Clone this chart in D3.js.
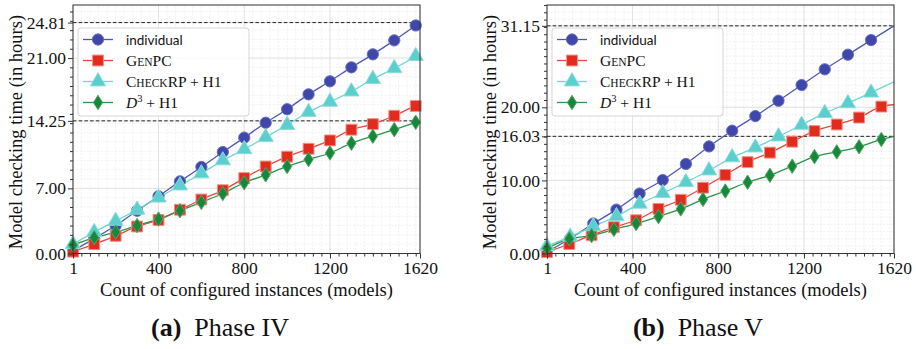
<!DOCTYPE html>
<html>
<head>
<meta charset="utf-8">
<script src="https://cdn.jsdelivr.net/npm/d3@7"></script>
<style>
body { margin: 0; background: #fff; }
svg { display: block; }
text { font-family: "Liberation Serif", "Times New Roman", Times, "DejaVu Serif", serif; }
text.sans { font-family: Lato, "DejaVu Sans", sans-serif; }
</style>
</head>
<body>
<script>
var width = 916,
    height = 349;

// ---- data ----
var xTicks = [1, 400, 800, 1200, 1620];

// Phase IV (markers every 100, last point is the line end at 1620)
var p4X = [1, 100, 200, 300, 400, 500, 600, 700, 800, 900, 1000, 1100, 1200, 1300, 1400, 1500, 1600, 1620];
var p4Individual = [0.3, 1.6, 3.0, 4.6, 6.15, 7.75, 9.3, 10.9, 12.45, 14.05, 15.5, 17.1, 18.5, 20.0, 21.4, 22.9, 24.5, 24.81];
var p4GenPC = [0.2, 1.0, 1.9, 2.9, 3.6, 4.7, 5.8, 6.8, 8.1, 9.35, 10.4, 11.25, 12.15, 13.3, 13.9, 14.8, 15.85, 16.0];
var p4CheckRP = [1.0, 2.3, 3.5, 4.7, 6.0, 7.3, 8.6, 10.0, 11.2, 12.5, 13.8, 15.2, 16.3, 17.4, 18.75, 19.9, 21.2, 21.5];
var p4D3 = [0.9, 1.7, 2.3, 3.0, 3.7, 4.6, 5.5, 6.45, 7.6, 8.45, 9.35, 10.1, 10.8, 11.85, 12.6, 13.3, 14.1, 14.25];
var p4YTicks = [0, 7, 14.25, 21, 24.81];
var p4Dashed = [24.81, 14.25];

// Phase V (individual / CheckRP marked every 108, GenPC / D3 every 104)
var p5XA = [1, 109, 217, 325, 433, 541, 649, 757, 865, 973, 1081, 1189, 1297, 1405, 1513, 1620];
var p5XB = [1, 105, 209, 313, 417, 521, 625, 729, 833, 937, 1041, 1145, 1249, 1353, 1457, 1561, 1620];
var p5Individual = [0.2, 2.05, 4.1, 6.0, 8.2, 10.05, 12.25, 14.65, 16.8, 18.8, 20.9, 23.05, 25.2, 27.2, 29.2, 31.15];
var p5CheckRP = [1.0, 2.3, 3.7, 5.1, 6.8, 8.25, 9.75, 11.35, 13.15, 14.5, 16.0, 17.6, 19.2, 20.55, 22.0, 23.5];
var p5GenPC = [0.2, 1.3, 2.5, 3.6, 4.55, 6.1, 7.35, 9.0, 10.75, 12.5, 13.8, 15.3, 16.75, 17.65, 18.6, 20.1, 20.35];
var p5D3 = [0.7, 2.0, 2.45, 3.3, 4.1, 5.05, 6.1, 7.4, 8.55, 9.75, 10.7, 11.95, 13.25, 13.9, 14.6, 15.6, 16.03];
var p5YTicks = [0, 10, 16.03, 20, 31.15];
var p5Dashed = [31.15, 16.03];

var styles = {
  individual: { line: '#5058b2', fill: '#3f47aa', edge: '#6a70bd', shape: 'circle' },
  genpc:      { line: '#e8473b', fill: '#e12c1d', edge: '#f08f86', shape: 'square' },
  checkrp:    { line: '#6dd5d3', fill: '#5bcfcd', edge: '#8adcdb', shape: 'triangle' },
  d3:         { line: '#2a9548', fill: '#17883a', edge: '#4ea565', shape: 'diamond' }
};
var legendOrder = ['individual', 'genpc', 'checkrp', 'd3'];

var svg = d3.select("body").append("svg")
    .attr("width", width)
    .attr("height", height);

function markerPath(shape) {
  if (shape === 'circle') return d3.symbol(d3.symbolCircle, 100)();
  if (shape === 'square') return d3.symbol(d3.symbolSquare, 118)();
  if (shape === 'triangle') return d3.symbol(d3.symbolTriangle, 100)();
  return "M0,-7.2L4.6,0L0,7.2L-4.6,0Z";
}

function drawMarker(g, key, x, y) {
  var s = styles[key];
  g.append("path")
    .attr("d", markerPath(s.shape))
    .attr("transform", "translate(" + x + "," + y + ")")
    .attr("fill", s.fill)
    .attr("stroke", s.edge)
    .attr("stroke-width", 1);
}

function legendLabel(text, key) {
  if (key === 'individual') {
    text.attr("class", "sans").style("font-size", "13.5px").text("individual");
    return;
  }
  text.style("font-size", "15.5px");
  if (key === 'genpc') {
    text.append("tspan").text("G");
    text.append("tspan").style("font-size", "11.5px").text("EN");
    text.append("tspan").text("PC");
  } else if (key === 'checkrp') {
    text.append("tspan").text("C");
    text.append("tspan").style("font-size", "11.5px").text("HECK");
    text.append("tspan").text("RP + H1");
  } else {
    text.append("tspan").style("font-style", "italic").text("D");
    text.append("tspan").attr("dy", -6).style("font-size", "10.5px").text("3");
    text.append("tspan").attr("dy", 6).text(" + H1");
  }
}

function drawPanel(cfg) {
  var x = d3.scaleLinear().domain([1, 1620]).range([cfg.left, cfg.right]);
  var y = d3.scaleLinear().domain([0, cfg.yMax]).range([253.5, 5]);
  var g = svg.append("g");

  // minor grid
  var xMinor = d3.range(40, 1620, 40);
  var yMinor = d3.range(1, Math.floor(cfg.yMax) + 1, 1);
  g.append("g").selectAll("line").data(xMinor).enter().append("line")
    .attr("x1", d => x(d)).attr("x2", d => x(d))
    .attr("y1", y(0)).attr("y2", y(cfg.yMax))
    .attr("stroke", "#e9e9e9").attr("stroke-width", 0.6).attr("stroke-dasharray", "2,1.5");
  g.append("g").selectAll("line").data(yMinor).enter().append("line")
    .attr("x1", cfg.left).attr("x2", cfg.right)
    .attr("y1", d => y(d)).attr("y2", d => y(d))
    .attr("stroke", "#e9e9e9").attr("stroke-width", 0.6).attr("stroke-dasharray", "2,1.5");

  // major grid
  g.append("g").selectAll("line").data(xTicks).enter().append("line")
    .attr("x1", d => x(d)).attr("x2", d => x(d))
    .attr("y1", y(0)).attr("y2", y(cfg.yMax))
    .attr("stroke", "#dcdcdc").attr("stroke-width", 0.8);
  g.append("g").selectAll("line").data(cfg.yTicks).enter().append("line")
    .attr("x1", cfg.left).attr("x2", cfg.right)
    .attr("y1", d => y(d)).attr("y2", d => y(d))
    .attr("stroke", "#dcdcdc").attr("stroke-width", 0.8);

  // dashed reference lines
  g.append("g").selectAll("line").data(cfg.dashed).enter().append("line")
    .attr("x1", cfg.left).attr("x2", cfg.right)
    .attr("y1", d => y(d)).attr("y2", d => y(d))
    .attr("stroke", "#222").attr("stroke-width", 1).attr("stroke-dasharray", "3.5,2.2");

  var line = d3.line()
    .x(d => x(d[0]))
    .y(d => y(d[1]))
    .curve(d3.curveMonotoneX);

  cfg.series.forEach(function (s) {
    var pts = s.xs.map((v, i) => [v, s.values[i]]);
    g.append("path")
      .datum(pts)
      .attr("fill", "none")
      .attr("stroke", styles[s.key].line)
      .attr("stroke-width", 1.3)
      .attr("d", line);
  });
  cfg.series.forEach(function (s) {
    var mg = g.append("g");
    // last point is only the end of the line, no marker
    s.xs.slice(0, -1).forEach(function (v, i) {
      drawMarker(mg, s.key, x(v), y(s.values[i]));
    });
  });

  // frame
  g.append("rect")
    .attr("x", cfg.left).attr("y", 5)
    .attr("width", cfg.right - cfg.left).attr("height", 253.5 - 5)
    .attr("fill", "none").attr("stroke", "#333").attr("stroke-width", 1);

  // axes
  var xAxis = d3.axisBottom(x).tickValues(xTicks).tickFormat(d3.format("d")).tickSize(5).tickPadding(3);
  var xAxisMinor = d3.axisBottom(x).tickValues(xMinor).tickFormat("").tickSize(3);
  var yAxis = d3.axisLeft(y).tickValues(cfg.yTicks).tickFormat(d3.format(".2f")).tickSize(5).tickPadding(2);
  var yAxisMinor = d3.axisLeft(y).tickValues(yMinor.filter(d => cfg.yTicks.indexOf(d) < 0)).tickFormat("").tickSize(3);

  [ [xAxisMinor, "x"], [xAxis, "x"], [yAxisMinor, "y"], [yAxis, "y"] ].forEach(function (a) {
    var ag = g.append("g")
      .attr("transform", a[1] === "x" ? "translate(0,253.5)" : "translate(" + cfg.left + ",0)")
      .call(a[0]);
    ag.attr("font-family", null).attr("font-size", null);
    ag.select(".domain").remove();
    ag.selectAll("line").attr("stroke", "#333");
    ag.selectAll("text")
      .attr("fill", "#111")
      .style("font-size", "17.5px");
  });

  // axis titles
  g.append("text")
    .attr("x", (cfg.left + cfg.right) / 2).attr("y", 296)
    .attr("text-anchor", "middle")
    .style("font-size", "18.5px").attr("fill", "#111")
    .text("Count of configured instances (models)");
  g.append("text")
    .attr("transform", "translate(" + (cfg.left - 57) + ",132) rotate(-90)")
    .attr("text-anchor", "middle").attr("dy", "0.35em")
    .style("font-size", "18.5px").attr("fill", "#111")
    .text("Model checking time (in hours)");

  // legend
  var lg = g.append("g").attr("transform", "translate(" + (cfg.left + 5) + ",28)");
  lg.append("rect")
    .attr("width", 171).attr("height", 88).attr("rx", 3)
    .attr("fill", "#fff").attr("fill-opacity", 0.85)
    .attr("stroke", "#d6d6d6").attr("stroke-width", 1);
  legendOrder.forEach(function (key, i) {
    var ry = 11.5 + i * 21;
    lg.append("line")
      .attr("x1", 5).attr("x2", 35).attr("y1", ry).attr("y2", ry)
      .attr("stroke", styles[key].line).attr("stroke-width", 1.3);
    drawMarker(lg, key, 20, ry);
    var t = lg.append("text").attr("x", 48).attr("y", ry + 5).attr("fill", "#111");
    legendLabel(t, key);
  });

  // sub caption
  var cap = svg.append("text")
    .attr("x", cfg.captionX).attr("y", 336)
    .attr("text-anchor", "middle")
    .style("font-size", "26px").attr("fill", "#111");
  cap.append("tspan").style("font-weight", "bold").text(cfg.captionTag);
  cap.append("tspan").text("\u2002" + cfg.caption);
}

drawPanel({
  left: 73, right: 420, yMax: 26.7,
  yTicks: p4YTicks, dashed: p4Dashed,
  series: [
    { key: 'individual', xs: p4X, values: p4Individual },
    { key: 'genpc', xs: p4X, values: p4GenPC },
    { key: 'checkrp', xs: p4X, values: p4CheckRP },
    { key: 'd3', xs: p4X, values: p4D3 }
  ],
  captionX: 220, captionTag: "(a)", caption: "Phase IV"
});

drawPanel({
  left: 547, right: 894, yMax: 34.0,
  yTicks: p5YTicks, dashed: p5Dashed,
  series: [
    { key: 'individual', xs: p5XA, values: p5Individual },
    { key: 'genpc', xs: p5XB, values: p5GenPC },
    { key: 'checkrp', xs: p5XA, values: p5CheckRP },
    { key: 'd3', xs: p5XB, values: p5D3 }
  ],
  captionX: 698, captionTag: "(b)", caption: "Phase V"
});
</script>
</body>
</html>
